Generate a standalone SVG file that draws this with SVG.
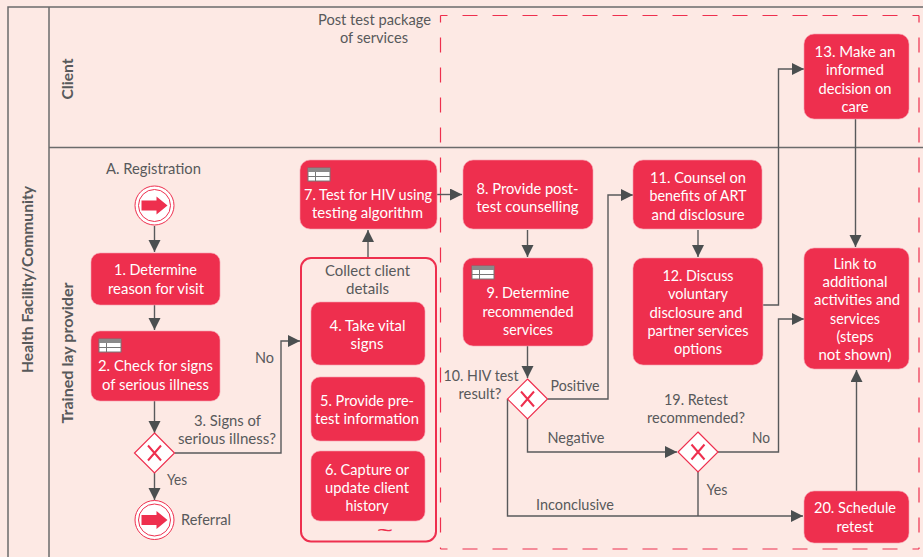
<svg xmlns="http://www.w3.org/2000/svg" width="923" height="557" viewBox="0 0 923 557">
<style>
text{font-family:"Lato","Liberation Sans",sans-serif;font-size:16px;text-anchor:middle}
.n rect{fill:#ee2f4e;stroke:#f7a0ae;stroke-width:.6}
.n text{fill:#fff}
.l{fill:#58595b}
.b{font-weight:700;font-size:16px}
.c path{fill:none;stroke:#58595b;stroke-width:1.4}
.s{fill:none;stroke:#6b6b6b;stroke-width:1.5}
.d{fill:none;stroke:#ee2f4e;stroke-width:1.2;stroke-dasharray:15 15;stroke-dashoffset:8}
</style>
<defs>
<marker id="a" markerWidth="13" markerHeight="13" refX="12" refY="6" orient="auto" markerUnits="userSpaceOnUse"><path d="M0 0L12 6L0 12z" fill="#4b4f50"/></marker>
<g id="t"><rect width="22" height="13" fill="#fff" stroke="#777"/><rect width="22" height="4" fill="#8a8a8a"/><path d="M0 8.500H22M7.500 4V13" stroke="#777"/></g>
<g id="x"><path d="M0-20L20 0L0 20L-20 0z" fill="#fff" stroke="#ee2f4e" stroke-width="1.2"/><path d="M-6.500-7.500L6.500 7.500M6.500-7.500L-6.500 7.500" stroke="#ee2f4e" stroke-width="2"/></g>
<g id="e"><circle r="19.500" fill="#fff" stroke="#ee2f4e" stroke-width="1"/><circle r="16" fill="#fff" stroke="#ee2f4e" stroke-width="1"/><path d="M-13-5H2V-9L13 0L2 9V5H-13z" fill="#ee2f4e"/></g>
</defs>
<rect width="923" height="557" fill="#fde9e4"/>
<g id="swimlanes">
<path class="s" d="M923 7H8V557M49 7V557M49 147.500H923"/>
<text class="b l" transform="translate(33 279.500) rotate(-90)" textLength="187" lengthAdjust="spacingAndGlyphs">Health Facility/Community</text>
<text class="b l" transform="translate(73 79) rotate(-90)" textLength="41" lengthAdjust="spacingAndGlyphs">Client</text>
<text class="b l" transform="translate(73 353) rotate(-90)" textLength="141" lengthAdjust="spacingAndGlyphs">Trained lay provider</text>
</g>
<g id="package">
<path class="d" d="M440.500 15.500H919"/>
<path class="d" d="M440.500 15.500V549"/>
<path class="d" d="M440.500 549H919"/>
<path class="d" d="M919 15.500V549"/>
</g>
<text class="l" x="374.500" y="25" textLength="113" lengthAdjust="spacingAndGlyphs">Post test package</text>
<text class="l" x="374" y="43" textLength="68" lengthAdjust="spacingAndGlyphs">of services</text>
<g class="c" id="connectors">
<path d="M154.500 226V252" marker-end="url(#a)"/>
<path d="M154.500 305V330" marker-end="url(#a)"/>
<path d="M154.500 401V433" marker-end="url(#a)"/>
<path d="M154.500 473V500" marker-end="url(#a)"/>
<path d="M174.500 453H281V341H300" marker-end="url(#a)"/>
<path d="M368 257V230" marker-end="url(#a)"/>
<path d="M437 194.500H462" marker-end="url(#a)"/>
<path d="M527.500 230V257" marker-end="url(#a)"/>
<path d="M527.500 346V378" marker-end="url(#a)"/>
<path d="M547.500 399H608V195H633" marker-end="url(#a)"/>
<path d="M527.500 418V452H677" marker-end="url(#a)"/>
<path d="M507.500 399V516H803" marker-end="url(#a)"/>
<path d="M698 472V516"/>
<path d="M698 230V257" marker-end="url(#a)"/>
<path d="M763 305H778.500V69H804" marker-end="url(#a)"/>
<path d="M855.500 119V247" marker-end="url(#a)"/>
<path d="M718 452H778.500V319H804" marker-end="url(#a)"/>
<path d="M856.500 491V370" marker-end="url(#a)"/>
</g>
<g id="start"><use href="#e" x="154.500" y="205.500"/><text class="l" x="153.500" y="174" textLength="95" lengthAdjust="spacingAndGlyphs">A. Registration</text></g>
<g id="n1" class="n"><rect x="91" y="253" width="129" height="52" rx="9"/><text x="155.500" y="275" textLength="83" lengthAdjust="spacingAndGlyphs">1. Determine</text><text x="156" y="294" textLength="96" lengthAdjust="spacingAndGlyphs">reason for visit</text></g>
<g id="n2" class="n"><rect x="91" y="331" width="129" height="70" rx="9"/><use href="#t" x="99" y="339"/><text x="155.500" y="371" textLength="115" lengthAdjust="spacingAndGlyphs">2. Check for signs</text><text x="155.500" y="390" textLength="107" lengthAdjust="spacingAndGlyphs">of serious illness</text></g>
<g id="n3"><use href="#x" x="154.500" y="453"/><text class="l" x="227.500" y="426" textLength="67" lengthAdjust="spacingAndGlyphs">3. Signs of</text><text class="l" x="227" y="444" textLength="98" lengthAdjust="spacingAndGlyphs">serious illness?</text></g>
<text class="l" x="264.500" y="363" textLength="19" lengthAdjust="spacingAndGlyphs">No</text>
<text class="l" x="177" y="485" textLength="20" lengthAdjust="spacingAndGlyphs">Yes</text>
<g id="referral"><use href="#e" x="154.500" y="520"/><text class="l" x="206" y="525" textLength="50" lengthAdjust="spacingAndGlyphs">Referral</text></g>
<g id="n7" class="n"><rect x="300" y="160" width="137" height="69" rx="10"/><use href="#t" x="308" y="168"/><text x="368" y="200" textLength="128" lengthAdjust="spacingAndGlyphs">7. Test for HIV using</text><text x="367.500" y="218" textLength="111" lengthAdjust="spacingAndGlyphs">testing algorithm</text></g>
<g id="collect"><rect x="301" y="258" width="135" height="283.500" rx="10" fill="none" stroke="#ee2f4e" stroke-width="2"/><text class="l" x="367.500" y="276" textLength="85" lengthAdjust="spacingAndGlyphs">Collect client</text><text class="l" x="367.500" y="294" textLength="43" lengthAdjust="spacingAndGlyphs">details</text><text x="385" y="537" textLength="16" lengthAdjust="spacingAndGlyphs" style="fill:#ee2f4e;font-family:'Liberation Sans',sans-serif;font-size:20px">~</text></g>
<g id="n4" class="n"><rect x="311" y="302" width="114" height="63" rx="9"/><text x="367.500" y="331" textLength="76" lengthAdjust="spacingAndGlyphs">4. Take vital</text><text x="367" y="349" textLength="33" lengthAdjust="spacingAndGlyphs">signs</text></g>
<g id="n5" class="n"><rect x="311" y="377" width="114" height="64" rx="9"/><text x="367" y="406" textLength="94" lengthAdjust="spacingAndGlyphs">5. Provide pre-</text><text x="367" y="424" textLength="104" lengthAdjust="spacingAndGlyphs">test information</text></g>
<g id="n6" class="n"><rect x="311" y="451" width="114" height="70" rx="9"/><text x="367" y="475" textLength="84" lengthAdjust="spacingAndGlyphs">6. Capture or</text><text x="367" y="493" textLength="84" lengthAdjust="spacingAndGlyphs">update client</text><text x="367" y="511" textLength="43" lengthAdjust="spacingAndGlyphs">history</text></g>
<g id="n8" class="n"><rect x="463" y="160" width="130" height="69" rx="10"/><text x="527.500" y="194" textLength="102" lengthAdjust="spacingAndGlyphs">8. Provide post-</text><text x="527.500" y="212" textLength="102" lengthAdjust="spacingAndGlyphs">test counselling</text></g>
<g id="n9" class="n"><rect x="463" y="258" width="130" height="88" rx="10"/><use href="#t" x="472" y="266"/><text x="528" y="298" textLength="83" lengthAdjust="spacingAndGlyphs">9. Determine</text><text x="528" y="317" textLength="91" lengthAdjust="spacingAndGlyphs">recommended</text><text x="528" y="335" textLength="50" lengthAdjust="spacingAndGlyphs">services</text></g>
<g id="n10"><use href="#x" x="527.500" y="399"/><text class="l" x="481" y="381" textLength="75" lengthAdjust="spacingAndGlyphs">10. HIV test</text><text class="l" x="480" y="399" textLength="43" lengthAdjust="spacingAndGlyphs">result?</text></g>
<text class="l" x="575" y="391" textLength="49" lengthAdjust="spacingAndGlyphs">Positive</text>
<text class="l" x="576" y="443" textLength="57" lengthAdjust="spacingAndGlyphs">Negative</text>
<text class="l" x="575" y="510" textLength="78" lengthAdjust="spacingAndGlyphs">Inconclusive</text>
<g id="n11" class="n"><rect x="633" y="160" width="129" height="69" rx="10"/><text x="698" y="183" textLength="96" lengthAdjust="spacingAndGlyphs">11. Counsel on</text><text x="698" y="201" textLength="97" lengthAdjust="spacingAndGlyphs">benefits of ART</text><text x="698" y="220" textLength="93" lengthAdjust="spacingAndGlyphs">and disclosure</text></g>
<g id="n12" class="n"><rect x="633" y="258" width="130" height="107" rx="10"/><text x="698" y="281" textLength="71" lengthAdjust="spacingAndGlyphs">12. Discuss</text><text x="698" y="299" textLength="60" lengthAdjust="spacingAndGlyphs">voluntary</text><text x="696" y="318" textLength="93" lengthAdjust="spacingAndGlyphs">disclosure and</text><text x="698" y="336" textLength="101" lengthAdjust="spacingAndGlyphs">partner services</text><text x="698" y="354" textLength="48" lengthAdjust="spacingAndGlyphs">options</text></g>
<g id="n13" class="n"><rect x="804" y="34" width="105" height="85" rx="10"/><text x="855" y="57" textLength="81" lengthAdjust="spacingAndGlyphs">13. Make an</text><text x="855" y="75" textLength="58" lengthAdjust="spacingAndGlyphs">informed</text><text x="855" y="94" textLength="73" lengthAdjust="spacingAndGlyphs">decision on</text><text x="855" y="112" textLength="27" lengthAdjust="spacingAndGlyphs">care</text></g>
<g id="n19"><use href="#x" x="698" y="452"/><text class="l" x="696" y="405" textLength="64" lengthAdjust="spacingAndGlyphs">19. Retest</text><text class="l" x="696" y="423" textLength="98" lengthAdjust="spacingAndGlyphs">recommended?</text></g>
<text class="l" x="761" y="443" textLength="18" lengthAdjust="spacingAndGlyphs">No</text>
<text class="l" x="717" y="495" textLength="21" lengthAdjust="spacingAndGlyphs">Yes</text>
<g id="link" class="n"><rect x="804" y="248" width="105" height="121" rx="10"/><text x="855" y="269" textLength="43" lengthAdjust="spacingAndGlyphs">Link to</text><text x="855" y="287" textLength="65" lengthAdjust="spacingAndGlyphs">additional</text><text x="857" y="305" textLength="86" lengthAdjust="spacingAndGlyphs">activities and</text><text x="855" y="324" textLength="50" lengthAdjust="spacingAndGlyphs">services</text><text x="855" y="342" textLength="37" lengthAdjust="spacingAndGlyphs">(steps</text><text x="855" y="360" textLength="73" lengthAdjust="spacingAndGlyphs">not shown)</text></g>
<g id="n20" class="n"><rect x="804" y="491" width="105" height="52" rx="10"/><text x="855" y="513" textLength="82" lengthAdjust="spacingAndGlyphs">20. Schedule</text><text x="855" y="532" textLength="37" lengthAdjust="spacingAndGlyphs">retest</text></g>
</svg>
